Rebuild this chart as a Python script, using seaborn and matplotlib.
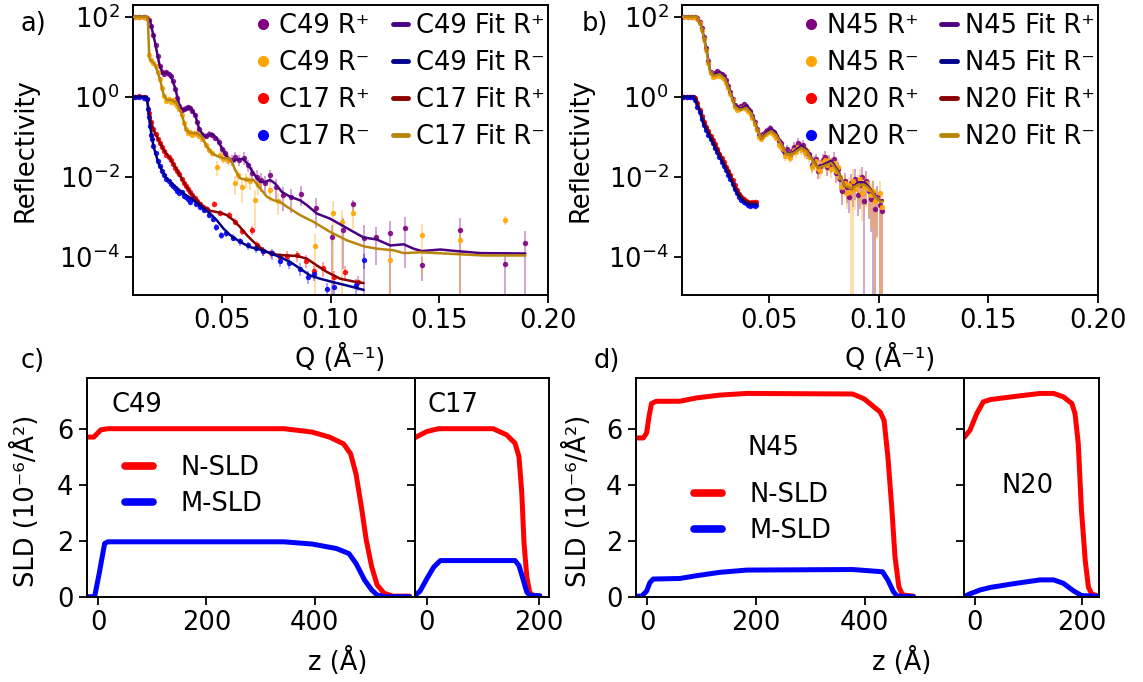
import numpy as np
import matplotlib
matplotlib.use("Agg")
import matplotlib.pyplot as plt
import seaborn as sns
from matplotlib.lines import Line2D
from matplotlib.ticker import FixedLocator, NullLocator

sns.set_theme(style="ticks")
plt.rcParams['font.family'] = ['DejaVu Sans']
FS = 18.5
plt.rcParams.update({
    "axes.edgecolor": "black", "axes.linewidth": 1.4,
    "xtick.color": "black", "ytick.color": "black",
    "xtick.major.size": 6, "ytick.major.size": 6,
    "xtick.major.width": 1.3, "ytick.major.width": 1.3,
    "xtick.labelsize": FS, "ytick.labelsize": FS,
    "axes.labelsize": FS, "text.color": "black", "axes.labelcolor": "black",
    "legend.fontsize": FS,
})

# ---------------- panel a data (Q in 1/A, log10 reflectivity) ----------------
c49p_q = [0.010, 0.012, 0.014, 0.0155, 0.0165, 0.0175, 0.0185, 0.0195, 0.0205, 0.0215,
          0.0225, 0.0235, 0.0245, 0.0255, 0.0265, 0.0275, 0.0285, 0.0295, 0.0305, 0.0315,
          0.0325, 0.0335, 0.0345, 0.0355, 0.0365, 0.0375, 0.0385, 0.0395, 0.0410, 0.0425,
          0.0440, 0.0455, 0.0470, 0.0485, 0.0500, 0.0515, 0.0530, 0.0545, 0.0560, 0.0580,
          0.0600, 0.0620, 0.0640, 0.0660, 0.0680, 0.0700, 0.0722, 0.0750, 0.0780, 0.0820,
          0.0865, 0.0934, 0.1006, 0.1055, 0.1101, 0.1156, 0.1209, 0.1275, 0.1344, 0.1422,
          0.1594, 0.1804, 0.1893]
c49p_logr = [2.0, 2.0, 2.0, 1.98, 1.93, 1.78, 1.55, 1.30, 1.02, 0.76,
             0.62, 0.58, 0.62, 0.58, 0.52, 0.40, 0.20, -0.02, -0.22, -0.32,
             -0.30, -0.28, -0.25, -0.28, -0.35, -0.45, -0.62, -0.80, -0.95, -0.98,
             -0.93, -0.95, -1.02, -1.12, -1.30, -1.40, -1.55, -1.58, -1.50, -1.58,
             -1.52, -1.70, -1.90, -2.00, -2.08, -2.15, -1.96, -2.25, -2.45, -2.50,
             -2.42, -2.77, -3.51, -3.32, -2.69, -3.52, -3.51, -3.40, -3.28, -4.22,
             -3.34, -4.19, -3.67]
c49p_err = [0.03, 0.03, 0.03, 0.03, 0.03, 0.03, 0.04, 0.04, 0.05, 0.05,
            0.05, 0.05, 0.05, 0.05, 0.06, 0.06, 0.07, 0.08, 0.08, 0.08,
            0.08, 0.08, 0.08, 0.09, 0.10, 0.10, 0.12, 0.12, 0.15, 0.15,
            0.15, 0.18, 0.18, 0.20, 0.22, 0.25, 0.28, 0.30, 0.30, 0.30,
            0.35, 0.35, 0.40, 0.45, 0.50, 0.50, 0.35, 0.55, 0.60, 0.60,
            0.50, 0.70, 1.00, 0.90, 0.30, 1.00, 0.80, 1.00, 0.90, 0.60,
            1.00, 1.00, 1.00]

c49m_q = [0.010, 0.012, 0.014, 0.0155, 0.0165, 0.0175, 0.0185, 0.0195, 0.0205, 0.0215,
          0.0225, 0.0235, 0.0245, 0.0255, 0.0265, 0.0275, 0.0285, 0.0295, 0.0305, 0.0315,
          0.0325, 0.0335, 0.0345, 0.0355, 0.0365, 0.0375, 0.0385, 0.0395, 0.0410, 0.0425,
          0.0440, 0.0455, 0.0477, 0.0490, 0.0505, 0.0520, 0.0535, 0.0561, 0.0575, 0.0592,
          0.0610, 0.0630, 0.0653, 0.0665, 0.0722, 0.0760, 0.0929, 0.1009, 0.1052, 0.1101,
          0.1275, 0.1422, 0.1594, 0.1804]
c49m_logr = [2.0, 2.0, 2.0, 1.98, 1.05, 0.92, 0.85, 0.78, 0.62, 0.45,
             0.22, 0.02, -0.10, -0.05, -0.12, -0.08, -0.15, -0.22, -0.30, -0.45,
             -0.65, -0.80, -0.90, -0.88, -0.95, -0.90, -0.92, -0.98, -1.05, -1.20,
             -1.32, -1.40, -1.75, -1.45, -1.55, -1.52, -1.58, -2.15, -1.95, -2.25,
             -2.05, -2.10, -2.59, -2.20, -2.33, -2.60, -3.74, -2.90, -3.13, -2.90,
             -4.08, -3.45, -3.59, -3.09]
c49m_err = [0.03, 0.03, 0.03, 0.03, 0.04, 0.04, 0.04, 0.05, 0.05, 0.05,
            0.05, 0.06, 0.06, 0.06, 0.07, 0.07, 0.08, 0.08, 0.08, 0.08,
            0.10, 0.10, 0.10, 0.12, 0.12, 0.12, 0.12, 0.15, 0.15, 0.18,
            0.20, 0.20, 0.40, 0.25, 0.28, 0.30, 0.30, 0.50, 0.35, 0.60,
            0.40, 0.40, 0.80, 0.45, 0.50, 0.55, 1.00, 1.00, 1.00, 0.60,
            1.00, 0.90, 1.00, 0.25]

c17p_q = [0.010, 0.012, 0.014, 0.0155, 0.0165, 0.0175, 0.0185, 0.0195, 0.0205, 0.0215,
          0.0225, 0.0235, 0.0245, 0.0255, 0.0265, 0.0275, 0.0285, 0.0295, 0.0305, 0.0315,
          0.0325, 0.0335, 0.0345, 0.0355, 0.0365, 0.0375, 0.0385, 0.0400, 0.0415, 0.0430,
          0.0466, 0.0490, 0.0531, 0.0560, 0.0595, 0.0638, 0.0660, 0.0690, 0.0725, 0.0768,
          0.0800, 0.0845, 0.0885, 0.0922, 0.0965, 0.1015, 0.1067, 0.1126]
c17p_logr = [0.00, 0.02, 0.00, -0.05, -0.40, -0.62, -0.80, -0.92, -1.05, -1.15,
             -1.25, -1.36, -1.45, -1.50, -1.58, -1.68, -1.78, -1.86, -1.93, -2.05,
             -2.15, -2.22, -2.30, -2.38, -2.45, -2.52, -2.60, -2.68, -2.75, -2.80,
             -2.67, -2.90, -2.96, -3.12, -3.35, -3.34, -3.70, -3.85, -3.92, -4.01,
             -3.98, -3.97, -4.10, -4.36, -4.28, -4.50, -4.38, -4.64]
c17p_err = [0.03, 0.03, 0.03, 0.03, 0.03, 0.03, 0.03, 0.04, 0.04, 0.04,
            0.05, 0.05, 0.05, 0.06, 0.06, 0.06, 0.07, 0.07, 0.08, 0.08,
            0.08, 0.09, 0.09, 0.10, 0.10, 0.10, 0.12, 0.12, 0.12, 0.15,
            0.15, 0.15, 0.20, 0.20, 0.20, 0.25, 0.25, 0.25, 0.25, 0.30,
            0.30, 0.30, 0.35, 0.35, 0.40, 0.40, 0.40, 0.40]

c17m_q = [0.010, 0.012, 0.014, 0.0155, 0.0160, 0.0165, 0.0170, 0.0175, 0.0180, 0.0185,
          0.0195, 0.0205, 0.0215, 0.0225, 0.0235, 0.0245, 0.0255, 0.0265, 0.0275, 0.0285,
          0.0295, 0.0305, 0.0315, 0.0325, 0.0335, 0.0345, 0.0355, 0.0365, 0.0380, 0.0400,
          0.0420, 0.0440, 0.0460, 0.0475, 0.0495, 0.0520, 0.0550, 0.0585, 0.0620, 0.0655,
          0.0690, 0.0730, 0.0768, 0.0810, 0.0860, 0.0895, 0.0922, 0.0985, 0.1014, 0.1115,
          0.1152]
c17m_logr = [0.00, 0.00, -0.02, -0.05, -0.30, -0.50, -0.72, -0.95, -1.05, -1.22,
             -1.40, -1.60, -1.72, -1.85, -1.95, -2.05, -2.10, -2.18, -2.22, -2.28,
             -2.35, -2.40, -2.38, -2.48, -2.50, -2.55, -2.62, -2.55, -2.68, -2.75,
             -2.82, -2.95, -3.05, -3.25, -3.45, -3.40, -3.52, -3.62, -3.72, -3.78,
             -3.85, -3.92, -4.10, -4.15, -4.30, -4.50, -4.43, -4.80, -4.76, -4.70,
             -4.09]
c17m_err = [0.03, 0.03, 0.03, 0.03, 0.03, 0.03, 0.03, 0.03, 0.04, 0.04,
            0.04, 0.05, 0.05, 0.05, 0.06, 0.06, 0.07, 0.07, 0.08, 0.08,
            0.08, 0.09, 0.09, 0.10, 0.10, 0.10, 0.12, 0.12, 0.12, 0.12,
            0.15, 0.15, 0.15, 0.20, 0.20, 0.20, 0.20, 0.25, 0.25, 0.25,
            0.25, 0.30, 0.30, 0.30, 0.35, 0.35, 0.35, 0.40, 0.40, 0.40,
            0.40]

# fits, panel a
fit_c49p_q = [0.0089, 0.0155, 0.0170, 0.0193, 0.0213, 0.0229, 0.0247, 0.0265, 0.0285, 0.0308,
              0.0331, 0.0354, 0.0377, 0.0397, 0.0423, 0.0454, 0.0477, 0.0500, 0.0523, 0.0546,
              0.0577, 0.0600, 0.0623, 0.0646, 0.0676, 0.0699, 0.0722, 0.0745, 0.0776, 0.0814,
              0.0860, 0.0891, 0.0937, 0.0998, 0.1044, 0.1106, 0.1152, 0.1213, 0.1275, 0.1336,
              0.1382, 0.1420, 0.1505, 0.1581, 0.1689, 0.1896]
fit_c49p_logr = [2.0, 2.0, 1.89, 1.35, 0.80, 0.58, 0.61, 0.53, 0.22, -0.28,
                 -0.33, -0.26, -0.45, -0.83, -1.00, -0.93, -1.04, -1.29, -1.50, -1.62,
                 -1.56, -1.56, -1.71, -1.92, -2.13, -2.13, -2.08, -2.17, -2.38, -2.50,
                 -2.59, -2.71, -2.92, -3.05, -3.19, -3.38, -3.52, -3.57, -3.72, -3.69,
                 -3.80, -3.86, -3.82, -3.86, -3.91, -3.92]
fit_c49m_q = [0.0089, 0.0155, 0.0160, 0.0166, 0.0170, 0.0193, 0.0216, 0.0232, 0.0247, 0.0270,
              0.0293, 0.0316, 0.0336, 0.0354, 0.0385, 0.0408, 0.0431, 0.0454, 0.0477, 0.0508,
              0.0531, 0.0546, 0.0561, 0.0584, 0.0615, 0.0646, 0.0676, 0.0707, 0.0738, 0.0768,
              0.0799, 0.0860, 0.0922, 0.0998, 0.1075, 0.1152, 0.1213, 0.1290, 0.1336, 0.1413,
              0.1489, 0.1597, 0.1704, 0.1896]
fit_c49m_logr = [2.0, 2.0, 1.92, 1.01, 0.93, 0.80, 0.43, 0.05, -0.08, -0.08,
                 -0.16, -0.45, -0.83, -0.91, -0.91, -1.00, -1.25, -1.41, -1.48, -1.54,
                 -1.54, -1.62, -1.83, -2.04, -2.08, -2.08, -2.29, -2.50, -2.59, -2.63,
                 -2.75, -2.96, -3.13, -3.38, -3.59, -3.74, -3.80, -3.84, -3.91, -3.89,
                 -3.91, -3.94, -3.97, -3.97]
fit_c17p_q = [0.0089, 0.0155, 0.0163, 0.0170, 0.0186, 0.0209, 0.0232, 0.0262, 0.0293, 0.0324,
              0.0354, 0.0385, 0.0416, 0.0446, 0.0492, 0.0523, 0.0554, 0.0584, 0.0615, 0.0646,
              0.0676, 0.0707, 0.0753, 0.0799, 0.0845, 0.0891, 0.0937, 0.0983, 0.1044, 0.1106,
              0.1152]
fit_c17p_logr = [0.0, 0.0, -0.33, -0.54, -0.83, -1.08, -1.33, -1.54, -1.83, -2.13,
                 -2.38, -2.59, -2.75, -2.85, -2.90, -2.96, -3.09, -3.26, -3.46, -3.63,
                 -3.77, -3.88, -3.95, -3.97, -3.98, -4.05, -4.22, -4.38, -4.55, -4.62,
                 -4.66]
fit_c17m_q = [0.0089, 0.0155, 0.0160, 0.0170, 0.0186, 0.0209, 0.0239, 0.0278, 0.0324, 0.0370,
              0.0416, 0.0446, 0.0477, 0.0508, 0.0538, 0.0584, 0.0630, 0.0676, 0.0722, 0.0768,
              0.0814, 0.0860, 0.0906, 0.0952, 0.1014, 0.1075, 0.1152]
fit_c17m_logr = [0.0, 0.0, -0.24, -0.74, -1.25, -1.67, -2.00, -2.21, -2.42, -2.59,
                 -2.79, -2.92, -3.09, -3.30, -3.46, -3.63, -3.76, -3.82, -3.91, -4.01,
                 -4.13, -4.30, -4.47, -4.55, -4.64, -4.72, -4.83]

# ---------------- panel b data ----------------
n45_q = [0.011, 0.013, 0.015, 0.0165, 0.0175, 0.0185, 0.0195, 0.0205, 0.0215, 0.0225,
         0.0235, 0.0245, 0.0255, 0.0265, 0.0275, 0.0285, 0.0295, 0.0305, 0.0315, 0.0325,
         0.0335, 0.0345, 0.0355, 0.0365, 0.0375, 0.0385, 0.0395, 0.0405, 0.0415, 0.0425,
         0.0435, 0.0445, 0.0455, 0.0465, 0.0475, 0.0485, 0.0495, 0.0505, 0.0515, 0.0525,
         0.0535, 0.0545, 0.0555, 0.0565, 0.0575, 0.0585, 0.0595, 0.0605, 0.0615, 0.0625,
         0.0635, 0.0645, 0.0655, 0.0665, 0.0675, 0.0685, 0.0695, 0.0705, 0.0715, 0.0725,
         0.0735, 0.0745, 0.0755, 0.0765, 0.0775, 0.0785, 0.0795, 0.0805, 0.0815, 0.0825,
         0.0835, 0.0845, 0.0855, 0.0865, 0.0875, 0.0885, 0.0895, 0.0905, 0.0915, 0.0925,
         0.0935, 0.0945, 0.0955, 0.0965, 0.0975, 0.0985, 0.0995, 0.1005, 0.1015]
n45p_logr = [2.0, 2.0, 2.0, 2.0, 1.97, 1.88, 1.72, 1.50, 1.22, 0.90,
             0.62, 0.56, 0.60, 0.64, 0.60, 0.58, 0.52, 0.42, 0.28, 0.12,
             -0.05, -0.20, -0.28, -0.25, -0.22, -0.18, -0.24, -0.30, -0.35, -0.48,
             -0.62, -0.80, -0.95, -1.00, -0.92, -0.85, -0.82, -0.78, -0.85, -0.88,
             -0.98, -1.10, -1.15, -1.32, -1.40, -1.30, -1.45, -1.35, -1.25, -1.30,
             -1.15, -1.25, -1.20, -1.35, -1.40, -1.42, -1.70, -1.62, -1.55, -1.85,
             -1.72, -1.58, -1.50, -1.75, -1.62, -1.68, -1.55, -1.90, -1.80, -2.05,
             -2.35, -2.10, -2.25, -2.50, -2.15, -2.30, -2.05, -2.45, -2.20, -2.00,
             -2.60, -2.10, -2.35, -2.55, -2.40, -2.80, -2.50, -2.70, -2.85]
n45p_err = [0.03, 0.03, 0.03, 0.03, 0.03, 0.03, 0.04, 0.04, 0.04, 0.05,
            0.05, 0.05, 0.05, 0.05, 0.06, 0.06, 0.06, 0.07, 0.07, 0.08,
            0.08, 0.09, 0.09, 0.10, 0.10, 0.10, 0.10, 0.12, 0.12, 0.12,
            0.14, 0.15, 0.15, 0.16, 0.16, 0.16, 0.16, 0.18, 0.18, 0.18,
            0.20, 0.20, 0.22, 0.22, 0.25, 0.25, 0.25, 0.25, 0.28, 0.28,
            0.28, 0.30, 0.30, 0.30, 0.32, 0.32, 0.35, 0.35, 0.35, 0.38,
            0.38, 0.40, 0.40, 0.40, 0.42, 0.42, 0.45, 0.45, 0.50, 0.50,
            0.55, 0.55, 0.60, 0.60, 0.65, 0.65, 0.70, 0.70, 0.75, 0.80,
            1.00, 0.75, 0.80, 0.85, 1.00, 1.00, 0.90, 1.00, 1.00]
n45m_logr = [2.0, 2.0, 2.0, 1.99, 1.95, 1.85, 1.68, 1.45, 1.18, 0.85,
             0.60, 0.50, 0.52, 0.55, 0.52, 0.50, 0.45, 0.35, 0.22, 0.08,
             -0.08, -0.25, -0.32, -0.30, -0.28, -0.25, -0.30, -0.36, -0.40, -0.52,
             -0.68, -0.82, -1.00, -1.05, -0.98, -0.92, -0.88, -0.85, -0.90, -0.95,
             -1.02, -1.20, -1.25, -1.30, -1.48, -1.42, -1.52, -1.40, -1.32, -1.38,
             -1.25, -1.30, -1.28, -1.40, -1.35, -1.50, -1.75, -1.68, -1.60, -1.80,
             -1.85, -1.62, -1.58, -1.70, -1.60, -1.80, -1.65, -1.85, -1.75, -2.00,
             -2.25, -2.15, -2.40, -2.20, -2.35, -2.10, -2.30, -2.20, -2.05, -2.40,
             -2.25, -2.15, -2.30, -2.45, -2.35, -2.60, -2.55, -2.40, -2.75]
n45m_err = [0.03, 0.03, 0.03, 0.03, 0.03, 0.03, 0.04, 0.04, 0.04, 0.05,
            0.05, 0.05, 0.05, 0.05, 0.06, 0.06, 0.06, 0.07, 0.07, 0.08,
            0.08, 0.09, 0.09, 0.10, 0.10, 0.10, 0.10, 0.12, 0.12, 0.12,
            0.14, 0.15, 0.15, 0.16, 0.16, 0.16, 0.16, 0.18, 0.18, 0.18,
            0.20, 0.20, 0.22, 0.22, 0.25, 0.25, 0.25, 0.25, 0.28, 0.28,
            0.28, 0.30, 0.30, 0.30, 0.32, 0.32, 0.35, 0.35, 0.35, 0.38,
            0.38, 0.40, 0.40, 0.40, 0.42, 0.42, 0.45, 0.45, 0.50, 0.50,
            0.55, 0.55, 0.60, 0.60, 1.00, 1.00, 0.70, 0.70, 0.75, 0.80,
            0.75, 0.75, 0.80, 0.85, 0.90, 1.00, 0.90, 1.00, 1.00]

n20_q = [0.011, 0.0125, 0.014, 0.0155, 0.0165, 0.0175, 0.0185, 0.0195, 0.0205, 0.0215,
         0.0225, 0.0235, 0.0245, 0.0255, 0.0265, 0.0275, 0.0285, 0.0295, 0.0305, 0.0315,
         0.0325, 0.0335, 0.0345, 0.0355, 0.0365, 0.0375, 0.0385, 0.0395, 0.0405, 0.0415,
         0.0425, 0.0435, 0.0441]
n20p_logr = [0.0, 0.0, 0.0, 0.0, -0.02, -0.15, -0.32, -0.48, -0.62, -0.75,
             -0.86, -0.97, -1.08, -1.18, -1.30, -1.42, -1.52, -1.63, -1.75, -1.85,
             -1.95, -2.08, -2.20, -2.32, -2.42, -2.50, -2.56, -2.60, -2.62, -2.65,
             -2.62, -2.64, -2.63]
n20m_logr = [0.0, 0.0, 0.0, -0.01, -0.08, -0.25, -0.38, -0.55, -0.70, -0.83,
             -0.95, -1.05, -1.15, -1.27, -1.38, -1.50, -1.62, -1.72, -1.83, -1.95,
             -2.05, -2.18, -2.30, -2.40, -2.50, -2.58, -2.63, -2.66, -2.70, -2.72,
             -2.71, -2.72, -2.71]

fit_n45_q = [0.0103, 0.0171, 0.0194, 0.0217, 0.0232, 0.0247, 0.0277, 0.0300, 0.0323, 0.0345,
             0.0368, 0.0398, 0.0421, 0.0444, 0.0467, 0.0489, 0.0512, 0.0535, 0.0558, 0.0580,
             0.0611, 0.0648, 0.0671, 0.0702, 0.0724, 0.0755, 0.0785, 0.0815, 0.0845, 0.0876,
             0.0906, 0.0936, 0.0959, 0.0982, 0.1005, 0.1020]
fit_n45p_logr = [2.0, 2.0, 1.75, 1.16, 0.66, 0.54, 0.62, 0.49, 0.16, -0.22,
                 -0.30, -0.22, -0.38, -0.76, -1.05, -0.89, -0.80, -0.93, -1.18, -1.43,
                 -1.39, -1.22, -1.31, -1.60, -1.77, -1.68, -1.60, -1.85, -2.23, -2.31,
                 -2.14, -2.14, -2.27, -2.48, -2.60, -2.59]
fit_n45m_logr = [2.0, 2.0, 1.73, 1.12, 0.64, 0.52, 0.56, 0.45, 0.12, -0.25,
                 -0.33, -0.28, -0.42, -0.78, -1.06, -0.93, -0.86, -0.97, -1.20, -1.44,
                 -1.42, -1.28, -1.35, -1.62, -1.78, -1.72, -1.66, -1.88, -2.22, -2.30,
                 -2.20, -2.20, -2.30, -2.48, -2.62, -2.62]
fit_n20p_q = [0.0103, 0.0164, 0.0171, 0.0186, 0.0202, 0.0232, 0.0262, 0.0292, 0.0323, 0.0345,
              0.0368, 0.0391, 0.0414, 0.0441]
fit_n20p_logr = [0.0, 0.0, -0.09, -0.34, -0.59, -0.93, -1.26, -1.60, -1.93, -2.23,
                 -2.44, -2.59, -2.64, -2.64]
fit_n20m_q = [0.0103, 0.0159, 0.0186, 0.0202, 0.0232, 0.0262, 0.0292, 0.0323, 0.0345, 0.0368,
              0.0391, 0.0414, 0.0441]
fit_n20m_logr = [0.0, 0.0, -0.38, -0.68, -1.01, -1.35, -1.68, -2.02, -2.31, -2.52,
                 -2.64, -2.70, -2.70]

# ---------------- SLD profiles (z in A, SLD in 1e-6/A^2) ----------------
c49_nz = [-21, -8, 5, 18, 343, 395, 427, 453, 466, 476, 486, 495, 505, 515, 528, 544, 575]
c49_n = [5.70, 5.70, 5.96, 6.00, 6.00, 5.88, 5.70, 5.46, 5.11, 4.39, 3.21, 2.02, 1.07, 0.42, 0.12, 0.02, 0.02]
c49_mz = [-21, -6.5, 2, 12, 18, 343, 395, 440, 463, 476, 492, 505, 515, 531, 575]
c49_m = [0.0, 0.0, 0.83, 1.90, 1.96, 1.96, 1.88, 1.72, 1.54, 1.19, 0.59, 0.24, 0.06, 0.0, 0.0]

c17_nz = [-21, 0, 21, 118, 142, 157, 164, 169, 173, 178, 183, 189, 201]
c17_n = [5.68, 5.90, 6.00, 6.00, 5.78, 5.48, 5.00, 3.70, 1.90, 0.70, 0.15, 0.05, 0.03]
c17_mz = [-21, -12, 0, 12, 24, 157, 164, 172, 178, 183, 201]
c17_m = [0.05, 0.20, 0.64, 1.05, 1.29, 1.29, 1.11, 0.57, 0.16, 0.05, 0.03]

n45_nz = [-21, -7, -1, 4, 8, 17, 60, 91, 134, 183, 378, 399, 429, 436, 443, 450, 456, 463, 470, 490]
n45_n = [5.67, 5.67, 5.85, 6.50, 6.90, 6.98, 6.98, 7.10, 7.20, 7.26, 7.24, 7.07, 6.59, 6.29, 4.99, 3.21, 1.43, 0.36, 0.06, 0.02]
n45_mz = [-21, -10, -1, 5, 11, 60, 91, 134, 183, 378, 433, 443, 453, 460, 490]
n45_m = [0.02, 0.02, 0.20, 0.50, 0.63, 0.65, 0.75, 0.87, 0.95, 0.97, 0.89, 0.59, 0.18, 0.02, 0.0]

n20_nz = [-20, -9, 3.7, 16, 29, 78, 122, 147, 165, 181, 187, 193, 199, 206, 212, 218, 227]
n20_n = [5.68, 5.94, 6.54, 6.96, 7.04, 7.16, 7.26, 7.26, 7.14, 6.90, 6.54, 5.47, 3.08, 1.29, 0.33, 0.10, 0.04]
n20_mz = [-20, -9, 10, 29, 78, 122, 147, 165, 184, 199, 227]
n20_m = [0.0, 0.10, 0.24, 0.33, 0.48, 0.60, 0.60, 0.48, 0.21, 0.04, 0.02]

# ---------------- colours ----------------
PURPLE, ORANGE, RED, BLUE = "#800080", "#FFA500", "#FF0000", "#0000FF"
INDIGO, NAVY, DARKRED, GOLD = "#4B0082", "#00008B", "#8B0000", "#B8860B"


def draw_points(ax, q, logr, err, color):
    q = np.asarray(q)
    r = 10.0 ** np.asarray(logr)
    if err is not None:
        ax.errorbar(q, r, yerr=r * np.asarray(err), fmt="none", ecolor=color,
                    elinewidth=1.1, alpha=0.45, zorder=1)
    sns.scatterplot(x=q, y=r, color=color, s=15, linewidth=0, alpha=0.9,
                    ax=ax, zorder=2, legend=False)


def draw_fit(ax, q, logr, color):
    sns.lineplot(x=np.asarray(q), y=10.0 ** np.asarray(logr), color=color, lw=1.8,
                 sort=False, ax=ax, zorder=3, legend=False)


def refl_axes(ax, xlim):
    ax.set_yscale("log")
    ax.set_xlim(*xlim)
    ax.set_ylim(1.1e-5, 2.0e2)
    ax.yaxis.set_major_locator(FixedLocator([1e-4, 1e-2, 1e0, 1e2]))
    ax.yaxis.set_minor_locator(NullLocator())
    ax.set_xticks([0.05, 0.10, 0.15, 0.20])
    ax.set_xticklabels(["0.05", "0.10", "0.15", "0.20"])
    ax.set_ylabel("Reflectivity")
    ax.set_xlabel("Q (Å⁻¹)")


def refl_legend(ax, names):
    handles = [Line2D([], [], ls="none", marker="o", ms=7, color=c) for c in (PURPLE, ORANGE, RED, BLUE)]
    handles += [Line2D([], [], lw=3.5, color=c) for c in (INDIGO, NAVY, DARKRED, GOLD)]
    a, b = names
    labels = [f"{a} R⁺", f"{a} R⁻", f"{b} R⁺", f"{b} R⁻",
              f"{a} Fit R⁺", f"{a} Fit R⁻", f"{b} Fit R⁺", f"{b} Fit R⁻"]
    ax.legend(handles, labels, ncol=2, loc="upper right", bbox_to_anchor=(0.995, 0.975),
              frameon=False, fontsize=FS, handlelength=0.6, handletextpad=0.3,
              columnspacing=0.9, labelspacing=0.42, borderpad=0.05, borderaxespad=0.0)


fig = plt.figure(figsize=(11.43, 6.82), dpi=100)

# ---- panel a ----
ax_a = fig.add_axes([0.1161, 0.5674, 0.3633, 0.4257])
refl_axes(ax_a, (0.009, 0.2))
draw_points(ax_a, c49p_q, c49p_logr, c49p_err, PURPLE)
draw_points(ax_a, c49m_q, c49m_logr, c49m_err, ORANGE)
draw_points(ax_a, c17p_q, c17p_logr, c17p_err, RED)
draw_points(ax_a, c17m_q, c17m_logr, c17m_err, BLUE)
draw_fit(ax_a, fit_c49p_q, fit_c49p_logr, INDIGO)
draw_fit(ax_a, fit_c49m_q, fit_c49m_logr, GOLD)
draw_fit(ax_a, fit_c17p_q, fit_c17p_logr, DARKRED)
draw_fit(ax_a, fit_c17m_q, fit_c17m_logr, NAVY)
refl_axes(ax_a, (0.009, 0.2))
refl_legend(ax_a, ("C49", "C17"))
ax_a.yaxis.set_label_coords(-0.228, 0.5)
ax_a.xaxis.set_label_coords(0.5, -0.17)

# ---- panel b ----
ax_b = fig.add_axes([0.5964, 0.5674, 0.3642, 0.4257])
refl_axes(ax_b, (0.0103, 0.2))
draw_points(ax_b, n45_q, n45p_logr, n45p_err, PURPLE)
draw_points(ax_b, n45_q, n45m_logr, n45m_err, ORANGE)
draw_points(ax_b, n20_q, n20p_logr, None, RED)
draw_points(ax_b, n20_q, n20m_logr, None, BLUE)
draw_fit(ax_b, fit_n45_q, fit_n45p_logr, INDIGO)
draw_fit(ax_b, fit_n45_q, fit_n45m_logr, GOLD)
draw_fit(ax_b, fit_n20p_q, fit_n20p_logr, DARKRED)
draw_fit(ax_b, fit_n20m_q, fit_n20m_logr, NAVY)
refl_axes(ax_b, (0.0103, 0.2))
refl_legend(ax_b, ("N45", "N20"))
ax_b.yaxis.set_label_coords(-0.211, 0.5)
ax_b.xaxis.set_label_coords(0.5, -0.17)


# ---- SLD panels ----
def sld_pair(rect_main, rect_side, main, side, xl_main, xl_side):
    axm = fig.add_axes(rect_main)
    axs = fig.add_axes(rect_side, sharey=axm)
    for ax, (nz, n, mz, m) in ((axm, main), (axs, side)):
        sns.lineplot(x=nz, y=n, color=RED, lw=3.6, sort=False, ax=ax, legend=False)
        sns.lineplot(x=mz, y=m, color=BLUE, lw=3.6, sort=False, ax=ax, legend=False)
        ax.set_xlabel("")
        ax.set_ylabel("")
    axm.set_xlim(*xl_main)
    axs.set_xlim(*xl_side)
    axm.set_ylim(0, 7.8)
    axm.set_yticks([0, 2, 4, 6])
    axm.set_xticks([0, 200, 400])
    axs.set_xticks([0, 200])
    axs.tick_params(axis="y", labelleft=False)
    axm.set_ylabel("SLD (10⁻⁶/Å²)")
    h = [Line2D([], [], color=RED, lw=5.5), Line2D([], [], color=BLUE, lw=5.5)]
    return axm, axs, h


ax_c, ax_c2, hc = sld_pair([0.0759, 0.1251, 0.2872, 0.3202], [0.3631, 0.1251, 0.1175, 0.3202],
                           (c49_nz, c49_n, c49_mz, c49_m), (c17_nz, c17_n, c17_mz, c17_m),
                           (-21, 585), (-21, 218))
ax_c.yaxis.set_label_coords(-0.142, 0.44)
ax_c.text(25, 6.58, "C49", fontsize=FS, ha="left", va="baseline")
ax_c2.text(2, 6.58, "C17", fontsize=FS, ha="left", va="baseline")
ax_c.legend(hc, ["N-SLD", "M-SLD"], loc="upper left", bbox_to_anchor=(0.117, 0.65),
            frameon=False, fontsize=FS, handlelength=1.1, handletextpad=1.05,
            labelspacing=0.4, borderpad=0, borderaxespad=0)

ax_d, ax_d2, hd = sld_pair([0.5562, 0.1251, 0.2872, 0.3202], [0.8434, 0.1251, 0.1178, 0.3202],
                           (n45_nz, n45_n, n45_mz, n45_m), (n20_nz, n20_n, n20_mz, n20_m),
                           (-21, 583), (-20, 231))
ax_d.yaxis.set_label_coords(-0.133, 0.44)
ax_d.text(185, 5.05, "N45", fontsize=FS, ha="left", va="baseline")
ax_d2.text(49, 3.69, "N20", fontsize=FS, ha="left", va="baseline")
ax_d.legend(hd, ["N-SLD", "M-SLD"], loc="upper left", bbox_to_anchor=(0.178, 0.525),
            frameon=False, fontsize=FS, handlelength=1.1, handletextpad=1.05,
            labelspacing=0.4, borderpad=0, borderaxespad=0)

fig.text(338 / 1143, 0.018, "z (Å)", fontsize=FS, ha="center", va="baseline")
fig.text(902 / 1143, 0.018, "z (Å)", fontsize=FS, ha="center", va="baseline")

# panel letters
fig.text(33 / 1143, 0.9545, "a)", fontsize=FS, ha="center", va="baseline")
fig.text(595 / 1143, 0.9545, "b)", fontsize=FS, ha="center", va="baseline")
fig.text(33 / 1143, 0.461, "c)", fontsize=FS, ha="center", va="baseline")
fig.text(607 / 1143, 0.461, "d)", fontsize=FS, ha="center", va="baseline")

fig.savefig("out.png", dpi=100)
